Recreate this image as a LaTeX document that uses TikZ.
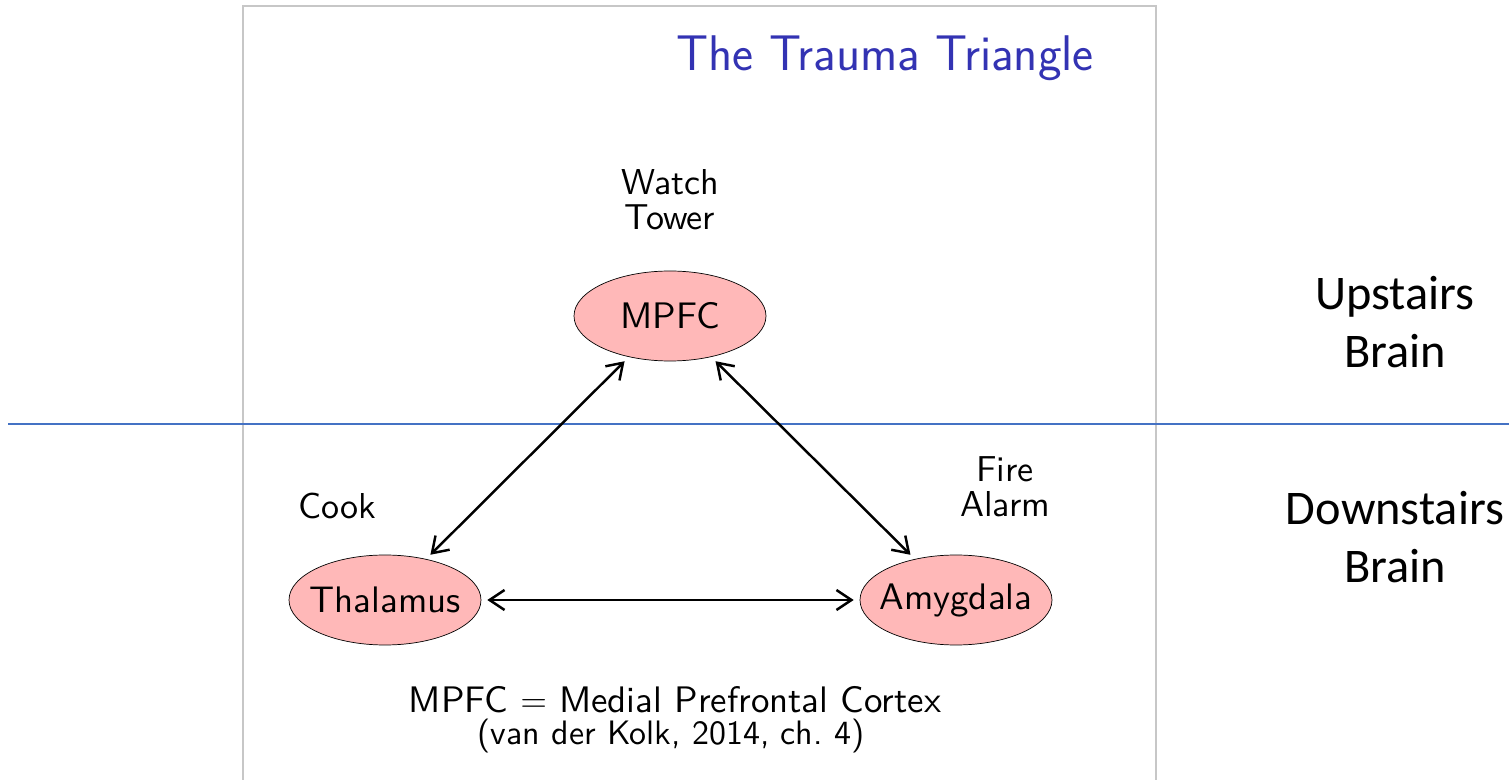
\documentclass[tikz,border=0pt]{standalone}
\usepackage{fontspec}
\newfontfamily\calibri{Carlito}
\newfontfamily\bodysans{lmsans10-regular.otf}
\usepackage{tikz}
\usetikzlibrary{positioning,arrows.meta,shapes.geometric}
\definecolor{titleblue}{RGB}{51,51,179}
\definecolor{lineblue}{RGB}{68,114,196}

\begin{document}
\begin{tikzpicture}[
    >={Straight Barb[length=3mm,width=4mm]},
    region/.style={ellipse, draw, fill=red!28, minimum width=3.84cm, minimum height=1.8cm,
                   inner xsep=-0.3cm, inner ysep=0pt, font=\bodysans\fontsize{21}{24}\selectfont},
    role/.style={align=center, font=\bodysans\fontsize{20.5}{20}\selectfont},
    side/.style={align=center, font=\calibri\fontsize{27.5}{33}\selectfont},
    arrow/.style={<->, line width=1.4pt, shorten <=0.12cm, shorten >=0.12cm},
]
    \useasboundingbox (0,0) rectangle (30.18,15.58);

    % Slide frame and divider
    \draw[black!22, line width=1pt] (4.86,-0.5) rectangle (23.12,15.46);
    \draw[lineblue, line width=1.2pt] (0.16,7.10) -- (30.18,7.10);

    % Title
    \node[text=titleblue, font=\sffamily\fontsize{28.5}{32}\selectfont] (title) at (17.70,14.42) {The Trauma Triangle};

    % Brain regions
    \node[region] (mpfc) at (13.40,9.26) {MPFC};
    \node[region] (thal) at (7.70,3.58)  {Thalamus};
    \node[region] (amyg) at (19.12,3.58) {Amygdala};

    % Roles
    \node[role] (watch) at (13.40,11.58) {Watch\\Tower};
    \node[role] (cook)  at (6.74,5.46)   {Cook};
    \node[role] (fire)  at (20.10,5.84)  {Fire\\Alarm};

    % Connections
    \draw[arrow] (mpfc) -- (thal);
    \draw[arrow] (mpfc) -- (amyg);
    \draw[arrow] (thal) -- (amyg);

    % Caption
    \node[anchor=base, font=\bodysans\fontsize{21}{24}\selectfont] (abbr) at (13.50,1.32) {MPFC $=$ Medial Prefrontal Cortex};
    \node[anchor=base, font=\bodysans\fontsize{19.3}{22}\selectfont] (cite) at (13.42,0.68) {(van der Kolk, 2014, ch.~4)};

    % Side labels
    \node[side] (up)   at (27.90,9.14) {Upstairs\\Brain};
    \node[side] (down) at (27.90,4.84) {Downstairs\\Brain};
\end{tikzpicture}
\end{document}
